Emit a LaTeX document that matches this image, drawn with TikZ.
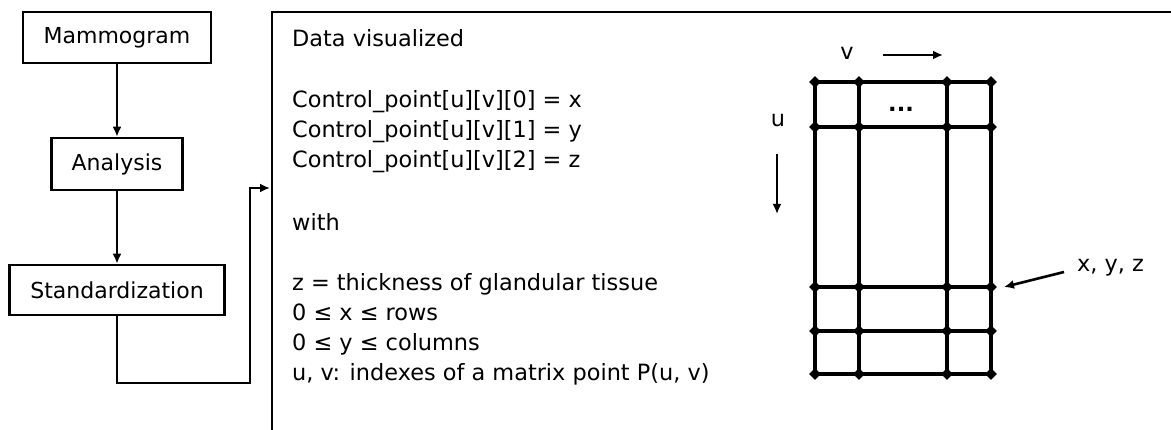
\documentclass[tikz,border=0pt]{standalone}
\usepackage{fontspec}
\setmainfont{DejaVu Sans}
\usetikzlibrary{arrows.meta,shapes.geometric}
\begin{document}
\begin{tikzpicture}[x=1pt,y=-1pt,
  box/.style={draw,line width=2.6pt,inner sep=0pt,font=\fontsize{22}{26}\selectfont},
  arr/.style={line width=2.6pt,-{Latex[length=10pt,width=9pt]}},
  txt/.style={anchor=base west,inner sep=0pt,font=\fontsize{22.4}{30}\selectfont},
  gline/.style={line width=3.2pt},
  dia/.style={diamond,fill=black,inner sep=0pt,minimum size=12pt}]
\useasboundingbox (0,0) rectangle (1171,430);
% left flow
\node[box,minimum width=188pt,minimum height=51pt] (mam) at (117,37.5) {Mammogram};
\node[box,minimum width=131pt,minimum height=52pt] (ana) at (117,164) {Analysis};
\node[box,minimum width=215pt,minimum height=50pt] (std) at (117,290) {Standardization};
\draw[arr] (mam.south) -- (ana.north);
\draw[arr] (ana.south) -- (std.north);
\coordinate (bend) at (250,383);
\coordinate (entry) at (270,188);
\draw[arr] (std.south) |- (bend) |- (entry);
% frame
\coordinate (ftr) at (1172,12);
\coordinate (ftl) at (272,12);
\coordinate (fbl) at (272,431);
\draw[line width=2.6pt] (ftr) -- (ftl) -- (fbl);
% text
\node[txt] (t0) at (292,47) {Data visualized};
\node[txt] (t1) at (292,108) {Control\_point[u][v][0] = x};
\node[txt] (t2) at (292,138) {Control\_point[u][v][1] = y};
\node[txt] (t3) at (292,168) {Control\_point[u][v][2] = z};
\node[txt] (t4) at (292,231) {with};
\node[txt] (t5) at (292,291) {z = thickness of glandular tissue};
\node[txt] (t6) at (292,321) {0 ≤ x ≤ rows};
\node[txt] (t7) at (292,351) {0 ≤ y ≤ columns};
\node[txt] (t8) at (292,381) {u, v: indexes of a matrix point P(u, v)};
% grid
\foreach \x in {815,859,947,991} \draw[gline] (\x,82) -- (\x,374);
\foreach \y in {82,127,287,331,374} \draw[gline] (815,\y) -- (991,\y);
\foreach \x in {815,859,947,991}
  \foreach \y in {82,127,287,331,374}
    \node[dia] at (\x,\y) {};
\node[txt,anchor=base,font=\bfseries\fontsize{22.4}{30}\selectfont] (dots) at (901,112) {...};
\node[txt,anchor=base] (vl) at (847,60) {v};
\coordinate (va) at (883,55);
\coordinate (vb) at (943,55);
\draw[arr] (va) -- (vb);
\node[txt,anchor=base] (ul) at (778,127) {u};
\coordinate (ua) at (777,154);
\coordinate (ub) at (777,214);
\draw[arr] (ua) -- (ub);
\node[txt] (xyz) at (1077,272) {x, y, z};
\coordinate (xa) at (1064,272);
\coordinate (xb) at (1004,287);
\draw[arr] (xa) -- (xb);
\end{tikzpicture}
\end{document}
